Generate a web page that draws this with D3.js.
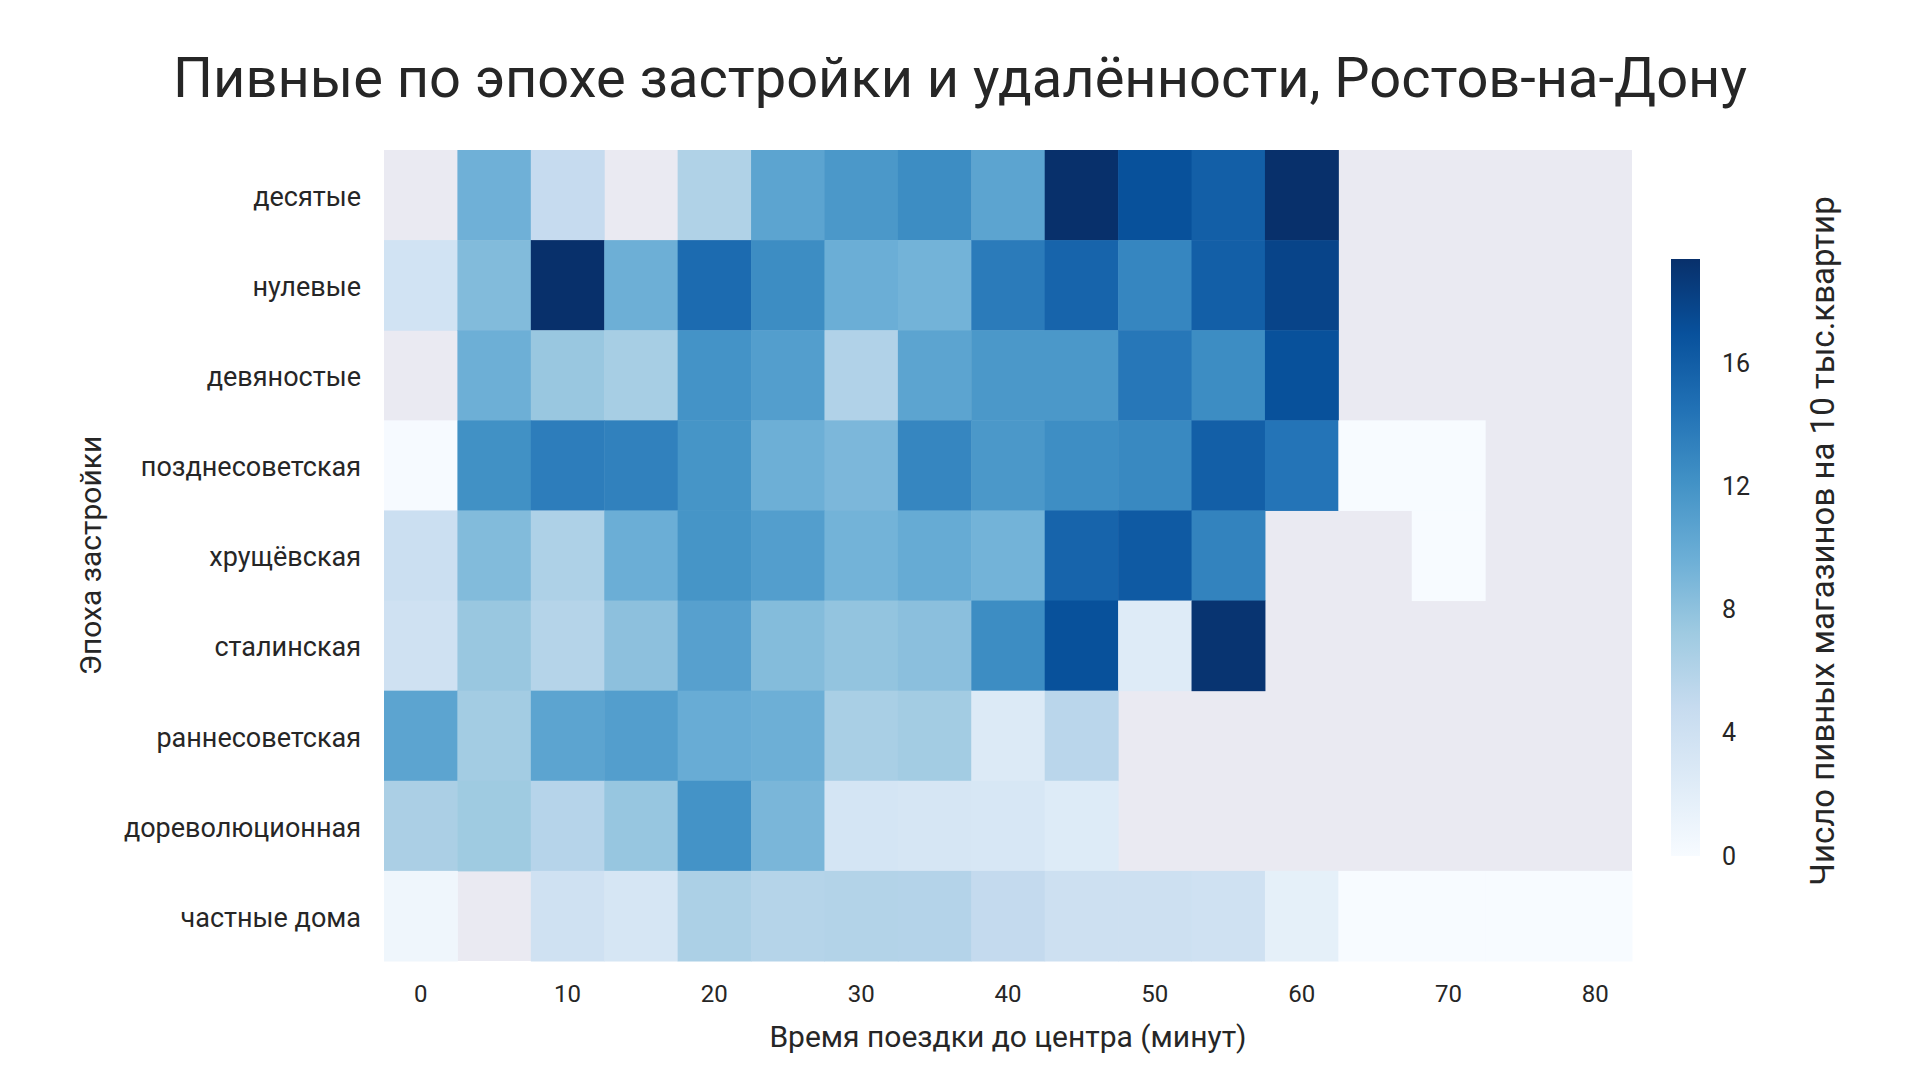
<!DOCTYPE html>
<html>
<head>
<meta charset="utf-8">
<script src="https://cdn.jsdelivr.net/npm/d3@7"></script>
<style>
  body { margin: 0; background: #fff; }
  text { font-family: Roboto, "Noto Sans", sans-serif; fill: #262626; }
</style>
</head>
<body>
<div id="chart"></div>
<script>
// heatmap data: rows = building era, columns = minutes to the centre
const eras = ['десятые', 'нулевые', 'девяностые', 'позднесоветская', 'хрущёвская',
              'сталинская', 'раннесоветская', 'дореволюционная', 'частные дома'];
const minutes = [0, 5, 10, 15, 20, 25, 30, 35, 40, 45, 50, 55, 60, 65, 70, 75, 80];
const xTickLabels = [0, 10, 20, 30, 40, 50, 60, 70, 80];
const colorTicks = [0, 4, 8, 12, 16];
const maxValue = 19.4;

// null = no data
const counts = [
  [null, 9.5, 4.8, null, 6.2, 10.6, 11.6, 12.5, 10.6, 19.4, 17.0, 15.9, 19.4, null, null, null, null],
  [3.7, 8.6, 19.4, 9.6, 15.0, 12.5, 9.7, 9.3, 13.8, 15.5, 13.0, 15.9, 17.9, null, null, null, null],
  [null, 9.6, 7.5, 6.7, 12.0, 11.1, 6.1, 10.6, 11.6, 11.6, 14.1, 12.5, 17.0, null, null, null, null],
  [0.1, 12.2, 13.7, 13.4, 11.9, 9.6, 8.9, 13.0, 11.6, 12.4, 12.8, 15.9, 14.3, 0.0, 0.0, null, null],
  [4.3, 8.6, 6.3, 9.7, 11.9, 11.1, 9.3, 10.0, 9.3, 15.5, 16.3, 13.2, null, null, 0.0, null, null],
  [3.9, 7.5, 5.9, 8.1, 10.9, 8.5, 7.8, 8.2, 12.5, 17.0, 2.4, 19.1, null, null, null, null, null],
  [10.6, 7.0, 10.6, 11.1, 9.9, 9.6, 6.6, 7.0, 2.6, 5.6, null, null, null, null, null, null, null],
  [6.5, 7.2, 5.8, 7.6, 12.0, 9.0, 3.4, 3.2, 3.1, 2.5, null, null, null, null, null, null, null],
  [0.8, null, 3.9, 3.2, 6.4, 5.9, 6.0, 5.95, 5.0, 4.1, 4.1, 3.9, 1.7, 0.0, 0.0, 0.0, 0.0]
];

// matplotlib "Blues"
const bluesStops = ['#f7fbff', '#deebf7', '#c6dbef', '#9ecae1', '#6baed6',
                    '#4292c6', '#2171b5', '#08519c', '#08306b'];

const width = 1920, height = 1080;
const plot = { left: 384, right: 1632, top: 150, bottom: 961 };
const bar = { left: 1671, right: 1700, top: 259, bottom: 856 };

const svg = d3.select('#chart').append('svg')
  .attr('width', width)
  .attr('height', height);

const x = d3.scaleBand().domain(minutes).range([plot.left, plot.right]);
const y = d3.scaleBand().domain(eras).range([plot.top, plot.bottom]);

const color = d3.scaleLinear()
  .domain(bluesStops.map((d, i) => i / (bluesStops.length - 1) * maxValue))
  .range(bluesStops)
  .interpolate(d3.interpolateRgb)
  .clamp(true);

// background for missing cells
svg.append('rect')
  .attr('x', plot.left).attr('y', plot.top)
  .attr('width', plot.right - plot.left)
  .attr('height', plot.bottom - plot.top)
  .attr('fill', '#eaeaf2');

const cells = [];
counts.forEach((row, i) => row.forEach((v, j) => {
  if (v !== null) cells.push({ era: eras[i], min: minutes[j], value: v });
}));

svg.append('g')
  .selectAll('rect')
  .data(cells)
  .enter()
  .append('rect')
  .attr('x', d => x(d.min))
  .attr('y', d => y(d.era))
  .attr('width', x.bandwidth() + 0.5)
  .attr('height', y.bandwidth() + 0.5)
  .attr('fill', d => color(d.value));

// axes
const xAxis = svg.append('g')
  .attr('transform', `translate(0,${plot.bottom})`)
  .call(d3.axisBottom(x).tickValues(xTickLabels).tickSize(0).tickPadding(24));
xAxis.select('.domain').remove();
xAxis.selectAll('text').style('font-size', '24px');

const yAxis = svg.append('g')
  .attr('transform', `translate(${plot.left},0)`)
  .call(d3.axisLeft(y).tickSize(0).tickPadding(23));
yAxis.select('.domain').remove();
yAxis.selectAll('text').style('font-size', '27px').attr('dy', '0.4em');

// titles
svg.append('text')
  .attr('x', 960).attr('y', 97)
  .attr('text-anchor', 'middle')
  .style('font-size', '56px')
  .text('Пивные по эпохе застройки и удалённости, Ростов-на-Дону');

svg.append('text')
  .attr('x', (plot.left + plot.right) / 2).attr('y', 1047)
  .attr('text-anchor', 'middle')
  .style('font-size', '30px')
  .text('Время поездки до центра (минут)');

svg.append('text')
  .attr('transform', `translate(101,${(plot.top + plot.bottom) / 2}) rotate(-90)`)
  .attr('text-anchor', 'middle')
  .style('font-size', '30px')
  .text('Эпоха застройки');

// colorbar
const defs = svg.append('defs');
const grad = defs.append('linearGradient')
  .attr('id', 'blues')
  .attr('x1', 0).attr('y1', 1).attr('x2', 0).attr('y2', 0);
grad.selectAll('stop')
  .data(bluesStops)
  .enter()
  .append('stop')
  .attr('offset', (d, i) => i / (bluesStops.length - 1))
  .attr('stop-color', d => d);

svg.append('rect')
  .attr('x', bar.left).attr('y', bar.top)
  .attr('width', bar.right - bar.left)
  .attr('height', bar.bottom - bar.top)
  .attr('fill', 'url(#blues)');

const cScale = d3.scaleLinear().domain([0, maxValue]).range([bar.bottom, bar.top]);
const cAxis = svg.append('g')
  .attr('transform', `translate(${bar.right},0)`)
  .call(d3.axisRight(cScale).tickValues(colorTicks).tickSize(0).tickPadding(22));
cAxis.select('.domain').remove();
cAxis.selectAll('text').style('font-size', '25px');

svg.append('text')
  .attr('transform', `translate(1834,541) rotate(-90)`)
  .attr('text-anchor', 'middle')
  .style('font-size', '33px')
  .text('Число пивных магазинов на 10 тыс.квартир');
</script>
</body>
</html>
